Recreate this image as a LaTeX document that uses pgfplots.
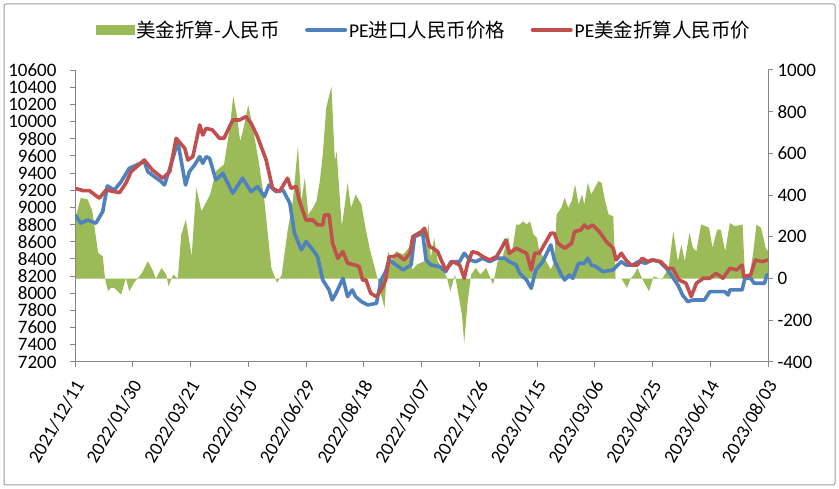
\documentclass[border=0pt]{standalone}
\usepackage{fontspec}
\setmainfont{Carlito}
\newfontfamily\cjk{Noto Sans CJK SC}
\usepackage{pgfplots}
\pgfplotsset{compat=1.18}
\definecolor{cgreen}{HTML}{9BBB59}
\definecolor{cblue}{HTML}{4F81BD}
\definecolor{cred}{HTML}{C0504D}
\definecolor{cax}{HTML}{868686}
\pgfplotsset{
  common/.style={
    scale only axis, width=693bp, height=292bp,
    at={(75bp,127bp)}, anchor=south west,
    xmin=0, xmax=600, enlargelimits=false,
    axis line style={cax, line width=1bp},
    tick style={cax, line width=1bp},
    major tick length=5bp, tick align=outside,
    scaled y ticks=false,
    /pgf/number format/assume math mode=true,
    /pgf/number format/1000 sep={},
    every tick label/.append style={font=\fontsize{19bp}{21bp}\selectfont, text=black},
  }
}
\begin{document}
\begin{tikzpicture}
\useasboundingbox (0,0) rectangle (839bp,489bp);
\fill[white] (0,0) rectangle (839bp,489bp);
\draw[cax!80, line width=1bp, rounded corners=2bp] (4bp,4bp) rectangle (835bp,485bp);
\begin{axis}[common,
  axis x line=none, axis y line*=right,
  ymin=-400, ymax=1000, ytick={-400,-200,0,200,400,600,800,1000},
  yticklabel style={xshift=1bp},
]
\addplot[fill=cgreen, draw=none] table {
0 283
5 387
11 379
15 323
20 123
24 107
26 0
28.6 -61
31 -45
34 -45
40 -77
44 3
47 -61
51 -21
58 27
63 83
67 43
70 0
75 51
79 19
81 -37
85 19
89 0
92 211
96 283
101 107
105 435
109.5 323
117 403
122 515
129 547
134 722
137 874
140 786
143 658
146 722
150 834
154 722
159 563
164 371
170 51
175 -21
179 19
184 227
188.6 371
193 634
196 371
199 483
202 307
206 339
209 371
212 467
214.5 594
217.5 818
222 922
225 563
226.5 610
231 251
234 371
236 459
239 339
243 403
248 355
251 259
255 147
261 19
265 -77
268 -141
271 131
274 83
278 131
284 115
289 147
292 43
296 67
302.6 83
306 267
308 99
311 195
314 83
318 51
322 3
325 -61
329 19
332 -77
335 -173
337 -308
340 -109
343 19
347 51
351 19
356 51
362 -29
366 83
370 99
375 203
378 115
382 259
385 259
388 275
391 259
394 275
397 211
400 195
402 131
408 83
412 43
415 83
417 307
421 339
424 387
427 339
430 371
433 451
436 355
439 403
441 355
444 459
447 403
450 435
453 467
456 459
459 371
462 307
466 299
468 0
473 0
478 -45
481 0
484 19
487 51
491 0
497 -61
501 11
508 -5
514 51
518 227
522 83
525 163
528 83
532 219
535 147
538 131
542 259
546 251
549 243
552 147
556 235
559 235
563 131
567 267
571 251
578 259
580 19
584 19
587 115
590 259
594 243
598 147
600 131
} \closedcycle;
\end{axis}
\begin{axis}[common,
  axis x line*=bottom, axis y line*=left,
  ymin=7200, ymax=10600,
  ytick={7200,7400,7600,7800,8000,8200,8400,8600,8800,9000,9200,9400,9600,9800,10000,10200,10400,10600},
  yticklabel style={xshift=-10bp},
  xtick={0,50,100,150,200,250,300,350,400,450,500,550,600},
  xticklabels={2021/12/11,2022/01/30,2022/03/21,2022/05/10,2022/06/29,2022/08/18,2022/10/07,2022/11/26,2023/01/15,2023/03/06,2023/04/25,2023/06/14,2023/08/03},
  x tick label style={xshift=6bp, yshift=-12bp, rotate=60, anchor=east},
  legend columns=3,
  legend style={at={(axis description cs:0.03,1.137)}, anchor=west, draw=none, fill=none,
    font=\fontsize{19.5bp}{21bp}\selectfont, inner sep=0pt,
    /tikz/every even column/.append style={column sep=23.5bp}},
  legend cell align=left,
]
\addlegendimage{legend image code/.code={\fill[cgreen] (0bp,-4.5bp) rectangle (38bp,4.5bp);}}
\addlegendentry{\cjk 美金折算-人民币}
\addplot[cblue, line width=3.6bp, line join=round,
  legend image code/.code={\draw[cblue, line width=4bp, line cap=round] (2bp,0bp) -- (40bp,0bp);}] table {
0 8912
5 8816
11 8854
18 8816
24 8951
28 9250
34 9203
40 9300
47 9456
60 9533
63 9416
74.6 9300
77.5 9261
83 9494
89 9766
95.7 9261
99 9416
103.5 9494
108 9591
110.6 9514
113.6 9591
116.5 9572
122 9320
128 9397
136.6 9165
145 9340
152.5 9184
158 9242
164 9126
168 9261
174 9184
180 9203
186 9049
190 8699
196 8505
200 8602
206 8505
210 8427
214.5 8155
220 8039
222.7 7922
226 8000
232 8175
236 7961
240 8039
243 7961
248 7903
253.5 7864
261 7883
265 8155
269 8252
272 8388
278 8330
284 8272
291 8330
294 8660
301 8699
304 8388
308 8330
315.6 8311
321 8252
325.5 8369
333 8369
337 8466
342 8388
347 8369
353 8408
359 8369
365 8408
372 8408
376 8369
382 8330
385 8233
391 8155
395 8058
399 8272
405 8369
412 8563
415 8388
421 8214
424 8155
428 8214
431 8175
436 8350
441 8350
444 8408
447 8330
451 8311
457 8252
466 8272
468.5 8311
473 8369
477 8330
483 8330
488 8369
494 8350
499 8388
506 8369
512 8291
518 8175
522 8097
526 7980
530.5 7903
535 7922
545 7922
549.6 8019
562.6 8019
565.5 7980
567 8039
577.6 8039
580 8175
585 8175
588 8117
597 8117
599 8214
600 8214
};
\addlegendentry{PE{\cjk 进口人民币价格}}
\addplot[cred, line width=3.6bp, line join=round,
  legend image code/.code={\draw[cred, line width=4bp, line cap=round] (2bp,0bp) -- (40bp,0bp);}] table {
0 9223
7 9195
12.5 9195
21 9107
27 9203
38.5 9172
44 9281
48.6 9416
60 9552
67 9436
76 9340
82 9416
87.6 9805
95 9689
97.7 9552
102 9591
108 9960
110.6 9843
113.6 9921
119 9902
125 9805
129 9805
136.6 10018
142.5 10018
148 10057
152.5 9980
158 9824
165.5 9552
171 9223
177 9184
184 9340
187 9223
191.5 9242
194 9087
200 8854
206 8854
210 8796
214.5 8796
216 8912
220 8912
223 8583
227.5 8408
232 8485
236 8350
242 8330
246 8311
249 8155
252 8155
256 8000
261 7961
265 8039
269 8155
272 8427
275 8427
279.5 8447
285 8388
290 8466
292.5 8660
300 8718
302.6 8757
307 8543
310 8524
314 8485
317 8388
321 8272
327 8369
333 8330
337 8175
340 8350
344 8485
349 8466
353 8427
359 8388
365 8427
370 8543
373 8621
376 8466
382 8524
385 8505
391 8466
395 8272
398 8466
402 8466
412 8699
415 8699
418 8583
424 8524
430 8583
432.5 8718
438 8738
441 8796
444 8757
448 8796
454 8718
460 8602
466 8524
468.5 8388
473 8466
477 8388
481 8330
487 8330
491 8408
496 8369
501 8388
507 8369
513 8291
517.5 8291
523 8155
529 8117
533.5 7961
538 8117
544 8175
549.6 8175
555 8233
561 8175
567 8291
573 8272
577.6 8330
579 8194
585 8214
589 8388
595 8369
600 8388
};
\addlegendentry{PE{\cjk 美金折算人民币价}}
\end{axis}
\end{tikzpicture}
\end{document}
